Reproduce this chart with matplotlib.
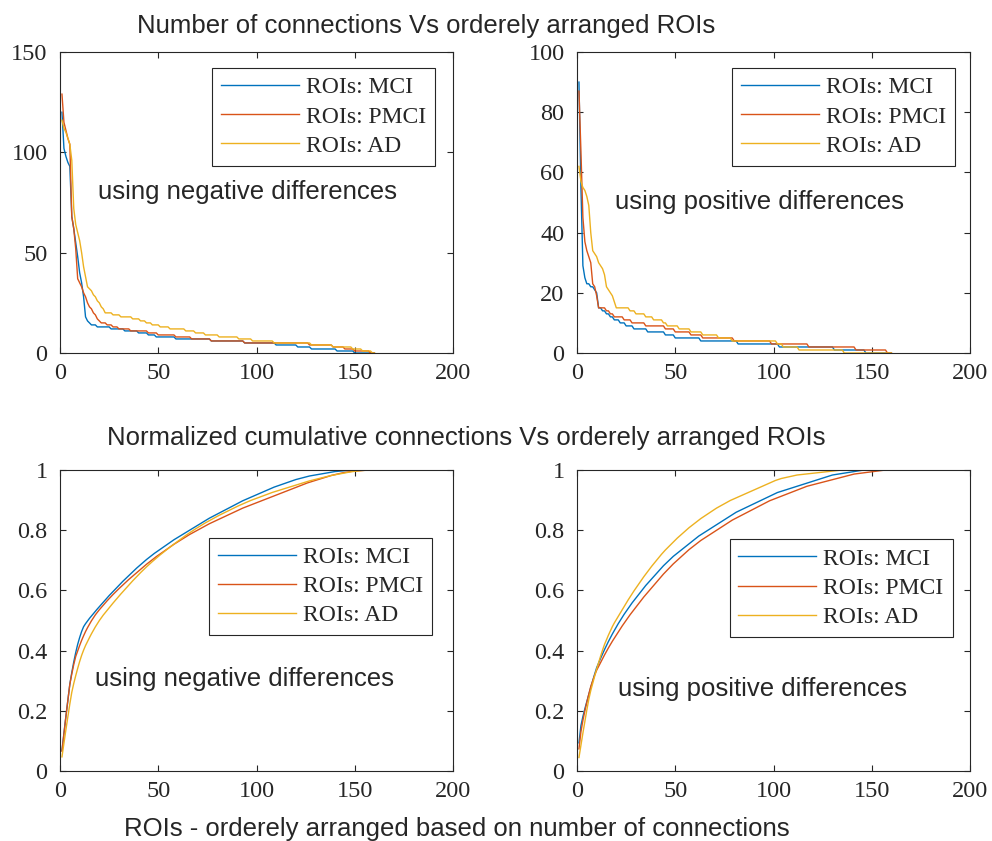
import numpy as np
import matplotlib
matplotlib.use('Agg')
import matplotlib.pyplot as plt
from matplotlib.ticker import FuncFormatter

# number of connections per ROI, sorted descending (value, run length)
neg_mci_vals = [120, 102, 98, 95, 93, 68, 62, 55, 48, 40, 35, 28, 18, 16, 15,
                14, 13, 12, 11, 10, 9, 8, 7, 6, 5, 4, 3, 2, 1, 0]
neg_mci_runs = [1, 1, 1, 1, 1, 1, 1, 1, 1, 1, 1, 1, 1, 1, 1,
                3, 7, 7, 7, 5, 4, 10, 18, 17, 16, 11, 7, 13, 9, 11]

neg_pmci_vals = [129, 115, 111, 107, 104, 68, 62, 52, 37, 35, 33, 30, 28, 25, 23, 22, 20, 19, 17, 16,
                 15, 14, 13, 12, 11, 10, 9, 8, 7, 6, 5, 4, 3, 2, 1, 0]
neg_pmci_runs = [1, 1, 1, 1, 1, 1, 1, 1, 1, 1, 1, 1, 1, 1, 1, 1, 1, 1, 1, 1,
                 3, 3, 3, 6, 9, 5, 9, 8, 10, 17, 33, 12, 6, 5, 8, 3]

neg_ad_vals = [116, 112, 110, 107, 104, 96, 72, 64, 60, 56, 50, 43, 38, 33, 32, 31, 29, 28, 26, 25, 23, 22,
               20, 19, 18, 17, 16, 15, 14, 13, 12, 11, 10, 9, 8, 7, 6, 5, 4, 3, 2, 1, 0]
neg_ad_runs = [1, 1, 1, 1, 1, 1, 1, 1, 1, 1, 1, 1, 1, 1, 1, 1, 1, 1, 1, 1, 1, 1,
               4, 4, 6, 4, 3, 3, 4, 5, 8, 5, 5, 7, 10, 7, 11, 19, 11, 10, 5, 5, 2]

pos_mci_vals = [90, 55, 29, 25, 23, 22, 21, 20, 15, 14, 13, 12, 11, 10, 9, 8, 7, 6, 5, 4, 3, 2, 1, 0]
pos_mci_runs = [1, 1, 1, 1, 2, 2, 1, 1, 2, 2, 2, 2, 3, 3, 4, 7, 9, 5, 13, 19, 21, 28, 16, 14]

pos_pmci_vals = [87, 67, 45, 37, 34, 32, 30, 23, 22, 19,
                 15, 14, 13, 12, 11, 10, 9, 8, 7, 6, 5, 4, 3, 2, 1, 0]
pos_pmci_runs = [1, 1, 1, 1, 1, 1, 1, 1, 1, 1,
                 4, 2, 2, 5, 4, 7, 10, 5, 8, 6, 16, 19, 19, 24, 16, 3]

pos_ad_vals = [62, 57, 55, 54, 52, 49, 40, 34, 33, 32, 30, 29, 28, 26, 22, 21, 20, 19, 17,
               15, 14, 13, 12, 11, 10, 9, 8, 7, 6, 5, 4, 3, 2, 1, 0]
pos_ad_runs = [1, 1, 1, 1, 1, 1, 1, 1, 1, 1, 1, 1, 1, 1, 1, 1, 1, 1, 1,
               7, 3, 5, 4, 5, 2, 6, 6, 6, 8, 7, 23, 3, 8, 23, 25]

labels = ['ROIs: MCI', 'ROIs: PMCI', 'ROIs: AD']
colors = ['#0072BD', '#D95319', '#EDB120']

neg = [np.repeat(neg_mci_vals, neg_mci_runs),
       np.repeat(neg_pmci_vals, neg_pmci_runs),
       np.repeat(neg_ad_vals, neg_ad_runs)]
pos = [np.repeat(pos_mci_vals, pos_mci_runs),
       np.repeat(pos_pmci_vals, pos_pmci_runs),
       np.repeat(pos_ad_vals, pos_ad_runs)]

serif = 'Liberation Serif'
sans = 'Liberation Sans'
dark = '#262626'

fig = plt.figure(figsize=(9.92, 8.41), dpi=100)
W, H = 992.0, 841.0


def make_ax(x0, y0, x1, y1):
    return fig.add_axes([x0 / W, 1 - y1 / H, (x1 - x0) / W, (y1 - y0) / H])


ax_tl = make_ax(60, 52, 453, 353)
ax_tr = make_ax(577, 52, 970, 353)
ax_bl = make_ax(60, 470, 453, 771)
ax_br = make_ax(577, 470, 970, 771)


def style(ax, ymax, yticks, leg_anchor, note, note_xy, cumulative=False):
    for sp in ax.spines.values():
        sp.set_color(dark)
        sp.set_linewidth(0.8)
    ax.set_xlim(0, 200)
    ax.set_ylim(0, ymax)
    ax.set_xticks([0, 50, 100, 150, 200])
    ax.set_yticks(yticks)
    ax.tick_params(direction='in', top=True, right=True, length=4, width=0.8,
                   colors=dark, labelsize=17.5)
    ax.tick_params(axis='x', pad=7)
    ax.tick_params(axis='y', pad=9)
    for lab in ax.get_xticklabels() + ax.get_yticklabels():
        lab.set_fontfamily(serif)
    if cumulative:
        ax.yaxis.set_major_formatter(FuncFormatter(lambda v, p: '%g' % v))
    leg = ax.legend(loc='upper right', bbox_to_anchor=leg_anchor, frameon=True, fancybox=False,
                    edgecolor=dark, framealpha=1, prop={'family': serif, 'size': 17},
                    handlelength=3.3, handletextpad=0.3, labelspacing=0.32, borderpad=0.38,
                    borderaxespad=0)
    leg.get_frame().set_linewidth(0.8)
    for t in leg.get_texts():
        t.set_color(dark)
    ax.text(note_xy[0], note_xy[1], note, family=sans, fontsize=18.5, color=dark,
            ha='left', va='center')


x = np.arange(1, len(neg[0]) + 1)
for vals, lab, c in zip(neg, labels, colors):
    ax_tl.plot(x, vals, color=c, lw=1.0, label=lab)
for vals, lab, c in zip(pos, labels, colors):
    ax_tr.plot(x, vals, color=c, lw=1.0, label=lab)
for vals, lab, c in zip(neg, labels, colors):
    ax_bl.plot(x, np.cumsum(vals) / np.sum(vals), color=c, lw=1.0, label=lab)
for vals, lab, c in zip(pos, labels, colors):
    ax_br.plot(x, np.cumsum(vals) / np.sum(vals), color=c, lw=1.0, label=lab)

style(ax_tl, 150, [0, 50, 100, 150], (0.954, 0.947), 'using negative differences', (19.3, 80))
style(ax_tr, 100, [0, 20, 40, 60, 80, 100], (0.962, 0.947), 'using positive differences', (19.3, 50))
style(ax_bl, 1, [0, 0.2, 0.4, 0.6, 0.8, 1], (0.947, 0.775), 'using negative differences',
      (17.8, 0.305), cumulative=True)
style(ax_br, 1, [0, 0.2, 0.4, 0.6, 0.8, 1], (0.956, 0.770), 'using positive differences',
      (20.9, 0.273), cumulative=True)

fig.text(426 / W, 1 - 26 / H, 'Number of connections Vs orderely arranged ROIs',
         family=sans, fontsize=18.5, color=dark, ha='center', va='center')
fig.text(466 / W, 1 - 438 / H, 'Normalized cumulative connections Vs orderely arranged ROIs',
         family=sans, fontsize=18.5, color=dark, ha='center', va='center')
fig.text(457 / W, 1 - 829 / H, 'ROIs - orderely arranged based on number of connections',
         family=sans, fontsize=18.5, color=dark, ha='center', va='center')

fig.savefig('out.png', dpi=100, facecolor='white')
